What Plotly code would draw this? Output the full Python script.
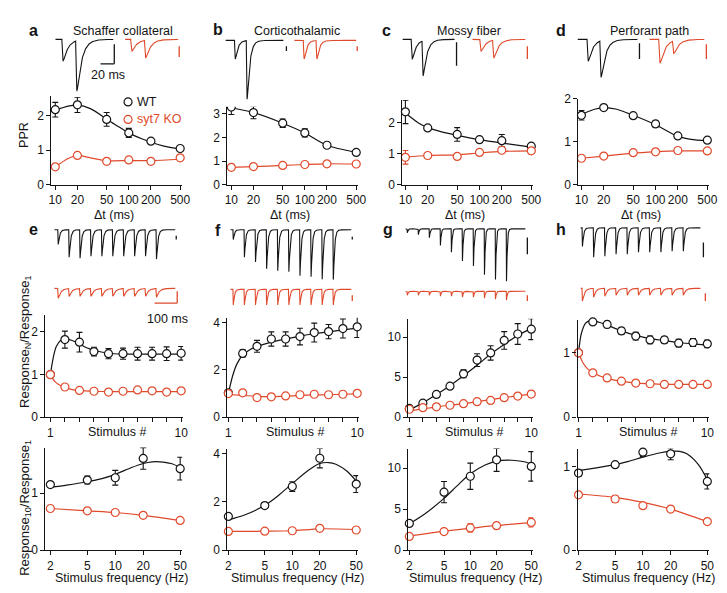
import numpy as np
import plotly.graph_objects as go

W, H = 727, 593
BLACK = "#141414"
RED = "#e04a2c"
FONT = "Arial, Liberation Sans, Helvetica, sans-serif"

# ======================= DATA =======================
dt_ms = [10, 20, 50, 100, 200, 500]
dt_labels = ["10", "20", "50", "100", "200", "500"]
stim_n = [1, 2, 3, 4, 5, 6, 7, 8, 9, 10]
stim_label_vals = [1, 10]
stim_labels = ["1", "10"]
freq_hz = [2, 5, 10, 20, 50]
freq_labels = ["2", "5", "10", "20", "50"]

# --- paired-pulse ratio (PPR) vs interval ---
a_wt = [2.17, 2.31, 1.89, 1.50, 1.26, 1.05]
a_wt_err = [0.21, 0.22, 0.20, 0.13, 0.04, 0.04]
a_ko = [0.52, 0.85, 0.68, 0.72, 0.68, 0.78]
a_ko_err = [0.03, 0.03, 0.03, 0.03, 0.03, 0.03]
b_wt = [3.28, 3.05, 2.60, 2.19, 1.67, 1.37]
b_wt_err = [0.31, 0.26, 0.18, 0.17, 0.06, 0.08]
b_ko = [0.74, 0.77, 0.82, 0.86, 0.89, 0.88]
b_ko_err = [0.03, 0.03, 0.03, 0.03, 0.03, 0.03]
c_wt = [2.36, 1.84, 1.63, 1.46, 1.43, 1.25]
c_wt_err = [0.38, 0.07, 0.22, 0.08, 0.20, 0.07]
c_ko = [0.89, 0.95, 0.92, 1.05, 1.12, 1.10]
c_ko_err = [0.22, 0.05, 0.05, 0.08, 0.05, 0.10]
d_wt = [1.62, 1.80, 1.61, 1.42, 1.14, 1.04]
d_wt_err = [0.11, 0.03, 0.05, 0.07, 0.03, 0.05]
d_ko = [0.62, 0.67, 0.75, 0.77, 0.80, 0.79]
d_ko_err = [0.05, 0.05, 0.03, 0.03, 0.03, 0.03]

# fitted curves
a_wt_fit_x = [10, 15, 20, 30, 50, 70, 100, 150, 200, 300, 500]
a_wt_fit_y = [2.15, 2.27, 2.30, 2.20, 1.90, 1.70, 1.50, 1.33, 1.23, 1.12, 1.04]
a_ko_fit_x = [10, 15, 20, 30, 50, 100, 200, 500]
a_ko_fit_y = [0.52, 0.76, 0.85, 0.78, 0.70, 0.70, 0.70, 0.74]
b_wt_fit_x = [10, 20, 50, 100, 200, 500]
b_wt_fit_y = [3.25, 3.05, 2.60, 2.19, 1.67, 1.37]
b_ko_fit_x = [10, 20, 50, 100, 200, 500]
b_ko_fit_y = [0.74, 0.77, 0.82, 0.86, 0.89, 0.88]
c_wt_fit_x = [10, 15, 20, 30, 50, 100, 200, 500]
c_wt_fit_y = [2.32, 2.00, 1.85, 1.72, 1.60, 1.46, 1.35, 1.22]
c_ko_fit_x = [10, 20, 50, 100, 200, 500]
c_ko_fit_y = [0.90, 0.95, 0.97, 1.03, 1.08, 1.10]
d_wt_fit_x = [10, 15, 20, 30, 50, 100, 200, 300, 500]
d_wt_fit_y = [1.64, 1.76, 1.80, 1.76, 1.62, 1.40, 1.13, 1.06, 1.03]
d_ko_fit_x = [10, 20, 50, 100, 200, 500]
d_ko_fit_y = [0.62, 0.67, 0.74, 0.77, 0.79, 0.79]

# --- Response_N / Response_1 vs stimulus number (20 Hz trains) ---
e_wt = [1.00, 1.82, 1.76, 1.54, 1.49, 1.49, 1.49, 1.49, 1.49, 1.50]
e_wt_err = [0.0, 0.20, 0.23, 0.10, 0.12, 0.13, 0.15, 0.15, 0.16, 0.16]
e_ko = [1.00, 0.71, 0.63, 0.61, 0.59, 0.61, 0.64, 0.62, 0.59, 0.62]
e_ko_err = [0.0, 0.03, 0.02, 0.02, 0.02, 0.02, 0.02, 0.02, 0.02, 0.02]
f_wt = [1.03, 2.69, 2.99, 3.30, 3.30, 3.40, 3.57, 3.61, 3.74, 3.81]
f_wt_err = [0.0, 0.15, 0.25, 0.30, 0.30, 0.35, 0.40, 0.30, 0.40, 0.45]
f_ko = [1.00, 1.03, 0.83, 0.86, 0.90, 0.95, 0.97, 0.95, 0.97, 1.01]
f_ko_err = [0.0, 0.05, 0.05, 0.05, 0.05, 0.05, 0.05, 0.05, 0.05, 0.05]
g_wt = [1.10, 1.76, 2.86, 3.88, 5.43, 7.14, 8.04, 9.60, 10.40, 11.00]
g_wt_err = [0.10, 0.20, 0.25, 0.30, 0.50, 0.80, 0.90, 1.10, 1.30, 1.30]
g_ko = [1.00, 1.20, 1.30, 1.50, 1.70, 1.95, 2.10, 2.45, 2.65, 2.90]
g_ko_err = [0.05, 0.05, 0.05, 0.05, 0.05, 0.10, 0.10, 0.15, 0.25, 0.35]
h_wt = [1.00, 1.48, 1.44, 1.34, 1.26, 1.20, 1.20, 1.15, 1.16, 1.14]
h_wt_err = [0.0, 0.03, 0.05, 0.05, 0.06, 0.06, 0.05, 0.06, 0.06, 0.06]
h_ko = [1.00, 0.69, 0.61, 0.56, 0.53, 0.52, 0.51, 0.51, 0.51, 0.51]
h_ko_err = [0.0, 0.04, 0.03, 0.03, 0.02, 0.02, 0.02, 0.02, 0.02, 0.02]

e_wt_fit_x = [1, 1.2, 1.4, 1.7, 2, 2.5, 3, 3.5, 4, 5, 6, 7, 8, 9, 10]
e_wt_fit_y = [1.0, 1.4, 1.65, 1.8, 1.83, 1.8, 1.72, 1.63, 1.57, 1.5, 1.48, 1.48, 1.48, 1.48, 1.48]
e_ko_fit_x = [1, 1.3, 1.6, 2, 2.5, 3, 4, 5, 6, 7, 8, 9, 10]
e_ko_fit_y = [1.0, 0.84, 0.76, 0.70, 0.65, 0.63, 0.61, 0.60, 0.60, 0.60, 0.60, 0.60, 0.60]
f_wt_fit_x = [1, 1.3, 1.6, 2, 2.5, 3, 4, 5, 6, 7, 8, 9, 10]
f_wt_fit_y = [1.0, 1.75, 2.25, 2.62, 2.85, 2.98, 3.17, 3.30, 3.42, 3.52, 3.60, 3.68, 3.76]
f_ko_fit_x = [1, 2, 3, 4, 5, 6, 7, 8, 9, 10]
f_ko_fit_y = [0.96, 0.92, 0.88, 0.87, 0.89, 0.92, 0.94, 0.95, 0.97, 0.99]
g_wt_fit_x = [1, 2, 3, 4, 5, 6, 7, 8, 9, 10]
g_wt_fit_y = [0.9, 1.8, 2.85, 3.95, 5.2, 6.5, 7.9, 9.1, 10.2, 11.1]
g_ko_fit_x = [1, 2, 3, 4, 5, 6, 7, 8, 9, 10]
g_ko_fit_y = [0.8, 1.05, 1.3, 1.5, 1.7, 1.95, 2.2, 2.45, 2.7, 2.9]
h_wt_fit_x = [1, 1.2, 1.5, 1.8, 2, 2.5, 3, 4, 5, 6, 7, 8, 9, 10]
h_wt_fit_y = [1.0, 1.3, 1.46, 1.5, 1.5, 1.47, 1.43, 1.34, 1.27, 1.22, 1.19, 1.16, 1.14, 1.12]
h_ko_fit_x = [1, 1.3, 1.6, 2, 2.5, 3, 4, 5, 6, 7, 8, 9, 10]
h_ko_fit_y = [1.0, 0.85, 0.76, 0.69, 0.64, 0.60, 0.56, 0.53, 0.52, 0.51, 0.51, 0.51, 0.51]

# --- Response_10 / Response_1 vs stimulus frequency ---
ef_wt = [1.15, 1.23, 1.27, 1.61, 1.43]
ef_wt_err = [0.04, 0.07, 0.13, 0.19, 0.20]
ef_ko = [0.73, 0.69, 0.66, 0.61, 0.52]
ef_ko_err = [0.02, 0.02, 0.02, 0.02, 0.03]
ff_wt = [1.39, 1.84, 2.63, 3.80, 2.73]
ff_wt_err = [0.05, 0.12, 0.20, 0.40, 0.35]
ff_ko = [0.77, 0.78, 0.80, 0.90, 0.83]
ff_ko_err = [0.03, 0.03, 0.03, 0.05, 0.05]
gf_wt = [3.25, 7.06, 9.00, 11.00, 10.20]
gf_wt_err = [0.20, 1.30, 1.60, 1.40, 1.80]
gf_ko = [1.66, 2.26, 2.70, 2.97, 3.37]
gf_ko_err = [0.10, 0.20, 0.50, 0.35, 0.55]
hf_wt = [0.92, 1.02, 1.17, 1.15, 0.82]
hf_wt_err = [0.04, 0.02, 0.05, 0.07, 0.09]
hf_ko = [0.66, 0.61, 0.53, 0.49, 0.34]
hf_ko_err = [0.02, 0.04, 0.03, 0.02, 0.02]

ef_wt_fit_x = [2, 3, 5, 7, 10, 15, 20, 25, 30, 40, 50]
ef_wt_fit_y = [1.10, 1.14, 1.20, 1.25, 1.33, 1.45, 1.52, 1.55, 1.55, 1.52, 1.45]
ef_ko_fit_x = [2, 5, 10, 20, 50]
ef_ko_fit_y = [0.73, 0.69, 0.66, 0.61, 0.52]
ff_wt_fit_x = [2, 3, 5, 7, 10, 15, 20, 25, 30, 40, 50]
ff_wt_fit_y = [1.25, 1.45, 1.85, 2.25, 2.75, 3.30, 3.58, 3.62, 3.55, 3.25, 2.85]
ff_ko_fit_x = [2, 5, 10, 20, 50]
ff_ko_fit_y = [0.77, 0.78, 0.80, 0.88, 0.85]
gf_wt_fit_x = [2, 3, 5, 7, 10, 15, 20, 30, 40, 50]
gf_wt_fit_y = [3.2, 4.4, 6.3, 7.8, 9.3, 10.4, 10.85, 10.95, 10.8, 10.5]
gf_ko_fit_x = [2, 5, 10, 20, 50]
gf_ko_fit_y = [1.70, 2.30, 2.65, 3.00, 3.35]
hf_wt_fit_x = [2, 3, 5, 7, 10, 15, 20, 25, 30, 40, 50]
hf_wt_fit_y = [0.95, 0.98, 1.02, 1.06, 1.11, 1.16, 1.18, 1.18, 1.15, 1.02, 0.84]
hf_ko_fit_x = [2, 5, 10, 20, 50]
hf_ko_fit_y = [0.67, 0.63, 0.57, 0.49, 0.34]

# --- example traces: peak amplitudes of each EPSC (as drawn, arbitrary units) ---
a_tr_wt = [22, 51]
a_tr_ko = [12, 18]
b_tr_wt = [19, 60]
b_tr_ko = [19, 19]
c_tr_wt = [20, 36]
c_tr_ko = [12, 18]
d_tr_wt = [22, 37]
d_tr_ko = [24, 13]
e_tr_wt = [15, 28, 29, 27, 27, 27, 27, 27, 27, 30]
e_tr_ko = [10, 8, 8, 8, 8, 8, 8, 8, 8, 9]
f_tr_wt = [10, 28, 33, 40, 42, 43, 47, 48, 51, 53]
f_tr_ko = [16, 16, 16, 16, 16, 16, 16, 16, 16, 16]
g_tr_wt = [4, 6, 9, 17, 24, 33, 38, 47, 52, 54]
g_tr_ko = [4, 4, 4, 5, 5, 6, 6, 7, 8, 9]
h_tr_wt = [19, 30, 29, 27, 27, 25, 25, 25, 24, 24]
h_tr_ko = [13, 9, 8, 7, 7, 7, 7, 7, 7, 7]
pair_interval_ms = 20
train_interval_ms = 50

# ======================= LAYOUT HELPERS =======================
fig = go.Figure()
layout = {}
annotations = []
ax_count = [0]


def new_axes():
    ax_count[0] += 1
    n = ax_count[0]
    s = "" if n == 1 else str(n)
    return "xaxis" + s, "yaxis" + s, "x" + s, "y" + s


def ann(px, py, text, size=12, color=BLACK, bold=False, angle=0, xanchor="center"):
    font = dict(size=size, color=color, family=FONT)
    if bold:
        font["weight"] = "bold"
    annotations.append(dict(x=px / W, y=1 - py / H, xref="paper", yref="paper",
                            text=text, showarrow=False, xanchor=xanchor, yanchor="middle",
                            textangle=angle, font=font))


def axis_style():
    return dict(showline=True, linecolor=BLACK, linewidth=1.1, ticks="outside", ticklen=4,
                tickwidth=1.1, tickcolor=BLACK, showgrid=False, zeroline=False, fixedrange=True,
                tickangle=0, tickfont=dict(size=12, color=BLACK, family=FONT))


def main_plot(geom, xlog, xs, xtv, xtt, ytv, wt, wt_err, ko, ko_err, wfx, wfy, kfx, kfy, minor_every=None):
    # geom: spine px, first-tick px, last-tick px, right px, top px, px per y-unit, y0 px
    spine, pf, pl, right, top, ppu, y0 = geom
    xk, yk, xr, yr = new_axes()
    f = np.log10 if xlog else (lambda v: v)
    a, b = f(xtv[0]), f(xtv[-1])
    ppx = (pl - pf) / (b - a)
    xrng = [a - (pf - spine) / ppx, b + (right - pl) / ppx]
    xa = dict(axis_style(), domain=[spine / W, right / W], range=xrng,
              type="log" if xlog else "linear", anchor=yr,
              tickvals=xtv, ticktext=xtt)
    if minor_every:
        xa["minor"] = dict(ticks="outside", ticklen=4, tickwidth=1.1, tickcolor=BLACK,
                           tick0=xtv[0], dtick=minor_every, showgrid=False)
    layout[xk] = xa
    layout[yk] = dict(axis_style(), domain=[1 - y0 / H, 1 - top / H],
                      range=[0, (y0 - top) / ppu], anchor=xr, tickvals=ytv,
                      ticktext=[str(v) for v in ytv])
    for fx, fy, c in ((wfx, wfy, BLACK), (kfx, kfy, RED)):
        fig.add_trace(go.Scatter(x=fx, y=fy, mode="lines", xaxis=xr, yaxis=yr,
                                 line=dict(color=c, width=1.2, shape="spline", smoothing=0.8),
                                 hoverinfo="skip", showlegend=False, cliponaxis=False))
    for ys, es, c in ((wt, wt_err, BLACK), (ko, ko_err, RED)):
        fig.add_trace(go.Scatter(x=xs, y=ys, mode="markers", xaxis=xr, yaxis=yr,
                                 marker=dict(symbol="circle", size=8, color="white",
                                             line=dict(color=c, width=1.2)),
                                 error_y=dict(type="data", array=es, color=c, thickness=1.1, width=3),
                                 showlegend=False, cliponaxis=False))
    return xr, yr, xrng, ppx, spine, y0, ppu


def ephys_trace(amps, color, geom, interval_ms, tau_r, tau_d, bars):
    # geom: start px, end px, baseline px, first-peak px, px between events
    x0, x1, yb, p1, step = geom
    xk, yk, xr, yr = new_axes()
    pxms = step / interval_ms
    tpk = tau_r * tau_d / (tau_d - tau_r) * np.log(tau_d / tau_r)
    t = np.arange(0, (x1 - x0) / pxms, 0.1)
    tt = np.linspace(0, 10 * tau_d, 4000)
    norm = np.max(np.exp(-tt / tau_d) - np.exp(-tt / tau_r))
    y = np.zeros_like(t)
    for i, A in enumerate(amps):
        ts = (p1 - x0) / pxms - tpk + i * interval_ms
        d = np.clip(t - ts, 0, None)
        k = (np.exp(-d / tau_d) - np.exp(-d / tau_r)) / norm
        y -= A * k
    fig.add_trace(go.Scatter(x=t, y=y, mode="lines", xaxis=xr, yaxis=yr,
                             line=dict(color=color, width=1.1), hoverinfo="skip",
                             showlegend=False, cliponaxis=False))
    xmax = x1
    ytop, ybot = yb - 10, yb + max(amps) + 8
    for (bx0, by0, bx1, by1) in bars:
        xmax = max(xmax, bx0, bx1)
        ybot = max(ybot, by0 + 2, by1 + 2)
        fig.add_trace(go.Scatter(x=[(bx0 - x0) / pxms, (bx1 - x0) / pxms],
                                 y=[yb - by0, yb - by1], mode="lines", xaxis=xr, yaxis=yr,
                                 line=dict(color=color, width=1.3), hoverinfo="skip",
                                 showlegend=False, cliponaxis=False))
    xmax += 3
    layout[xk] = dict(visible=False, domain=[x0 / W, xmax / W], range=[0, (xmax - x0) / pxms],
                      anchor=yr, fixedrange=True)
    layout[yk] = dict(visible=False, domain=[1 - ybot / H, 1 - ytop / H],
                      range=[yb - ybot, yb - ytop], anchor=xr, fixedrange=True)


# ======================= MAIN PLOTS =======================
r1 = dict(xlog=True, xs=dt_ms, xtv=dt_ms, xtt=dt_labels)
pa = main_plot((40, 44, 171, 173, 83, 35.5, 174), ytv=[0, 1, 2], wt=a_wt, wt_err=a_wt_err, ko=a_ko, ko_err=a_ko_err,
               wfx=a_wt_fit_x, wfy=a_wt_fit_y, kfx=a_ko_fit_x, kfy=a_ko_fit_y, **r1)
main_plot((219, 223, 350, 352, 86, 24.3, 174), ytv=[0, 1, 2, 3], wt=b_wt, wt_err=b_wt_err, ko=b_ko, ko_err=b_ko_err,
          wfx=b_wt_fit_x, wfy=b_wt_fit_y, kfx=b_ko_fit_x, kfy=b_ko_fit_y, **r1)
main_plot((397, 400, 528, 530, 87, 31.7, 174), ytv=[0, 1, 2], wt=c_wt, wt_err=c_wt_err, ko=c_ko, ko_err=c_ko_err,
          wfx=c_wt_fit_x, wfy=c_wt_fit_y, kfx=c_ko_fit_x, kfy=c_ko_fit_y, **r1)
main_plot((576, 579, 707, 709, 86, 44.0, 174), ytv=[0, 1, 2], wt=d_wt, wt_err=d_wt_err, ko=d_ko, ko_err=d_ko_err,
          wfx=d_wt_fit_x, wfy=d_wt_fit_y, kfx=d_ko_fit_x, kfy=d_ko_fit_y, **r1)

r2 = dict(xlog=False, xs=stim_n, xtv=stim_label_vals, xtt=stim_labels, minor_every=1)
main_plot((34, 39, 172, 174, 307, 43.7, 412), ytv=[0, 1, 2], wt=e_wt, wt_err=e_wt_err, ko=e_ko, ko_err=e_ko_err,
          wfx=e_wt_fit_x, wfy=e_wt_fit_y, kfx=e_ko_fit_x, kfy=e_ko_fit_y, **r2)
main_plot((219, 220, 351, 353, 310, 24.3, 412), ytv=[0, 2, 4], wt=f_wt, wt_err=f_wt_err, ko=f_ko, ko_err=f_ko_err,
          wfx=f_wt_fit_x, wfy=f_wt_fit_y, kfx=f_ko_fit_x, kfy=f_ko_fit_y, **r2)
main_plot((403, 404, 528, 530, 311, 8.2, 412), ytv=[0, 5, 10], wt=g_wt, wt_err=g_wt_err, ko=g_ko, ko_err=g_ko_err,
          wfx=g_wt_fit_x, wfy=g_wt_fit_y, kfx=g_ko_fit_x, kfy=g_ko_fit_y, **r2)
main_plot((575, 576, 707, 709, 312, 66.0, 412), ytv=[0, 1], wt=h_wt, wt_err=h_wt_err, ko=h_ko, ko_err=h_ko_err,
          wfx=h_wt_fit_x, wfy=h_wt_fit_y, kfx=h_ko_fit_x, kfy=h_ko_fit_y, **r2)

r3 = dict(xlog=True, xs=freq_hz, xtv=freq_hz, xtt=freq_labels)
main_plot((34, 39, 171, 173, 443, 58.3, 548), ytv=[0, 1], wt=ef_wt, wt_err=ef_wt_err, ko=ef_ko, ko_err=ef_ko_err,
          wfx=ef_wt_fit_x, wfy=ef_wt_fit_y, kfx=ef_ko_fit_x, kfy=ef_ko_fit_y, **r3)
main_plot((219, 220, 350, 352, 444, 24.75, 548), ytv=[0, 2, 4], wt=ff_wt, wt_err=ff_wt_err, ko=ff_ko, ko_err=ff_ko_err,
          wfx=ff_wt_fit_x, wfy=ff_wt_fit_y, kfx=ff_ko_fit_x, kfy=ff_ko_fit_y, **r3)
main_plot((403, 404, 528, 530, 444, 8.4, 548), ytv=[0, 5, 10], wt=gf_wt, wt_err=gf_wt_err, ko=gf_ko, ko_err=gf_ko_err,
          wfx=gf_wt_fit_x, wfy=gf_wt_fit_y, kfx=gf_ko_fit_x, kfy=gf_ko_fit_y, **r3)
main_plot((575, 576, 707, 709, 444, 85.7, 548), ytv=[0, 1], wt=hf_wt, wt_err=hf_wt_err, ko=hf_ko, ko_err=hf_ko_err,
          wfx=hf_wt_fit_x, wfy=hf_wt_fit_y, kfx=hf_ko_fit_x, kfy=hf_ko_fit_y, **r3)

# legend (inside panel a)
xr_a, yr_a, xrng_a, ppx_a, spine_a, y0_a, ppu_a = pa
for py, c, label in ((89, BLACK, "WT"), (107, RED, "syt7 KO")):
    lx = 10 ** (xrng_a[0] + (118 - spine_a) / ppx_a)
    ly = (y0_a - py) / ppu_a
    fig.add_trace(go.Scatter(x=[lx], y=[ly], mode="markers", xaxis=xr_a, yaxis=yr_a,
                             marker=dict(symbol="circle", size=8, color="white", line=dict(color=c, width=1.2)),
                             showlegend=False, cliponaxis=False, hoverinfo="skip"))
    ann(125, py, label, size=12.5, color=c, xanchor="left")

# ======================= EXAMPLE TRACES =======================
# paired pulses (row 1)
ephys_trace(a_tr_wt, BLACK, (44, 103, 25, 52, 14), pair_interval_ms, 0.7, 7.0, [(104, 30, 104, 50), (90, 50, 104, 50)])
ephys_trace(a_tr_ko, RED, (115, 169, 25, 122, 14), pair_interval_ms, 0.7, 7.0, [(170, 32, 170, 43)])
ephys_trace(b_tr_wt, BLACK, (217, 276, 26, 227, 12), pair_interval_ms, 0.5, 4.5, [(279, 32, 279, 37)])
ephys_trace(b_tr_ko, RED, (287, 350, 26, 297, 13), pair_interval_ms, 0.5, 4.0, [(351, 32, 351, 37)])
ephys_trace(c_tr_wt, BLACK, (397, 450, 25, 407, 11), pair_interval_ms, 0.8, 7.0, [(452, 28, 452, 52)])
ephys_trace(c_tr_ko, RED, (468, 522, 25, 477, 13), pair_interval_ms, 0.8, 7.0, [(524, 32, 524, 45)])
ephys_trace(d_tr_wt, BLACK, (575, 636, 25, 586, 13), pair_interval_ms, 0.8, 7.0, [(638, 29, 638, 45)])
ephys_trace(d_tr_ko, RED, (648, 704, 25, 659, 14), pair_interval_ms, 0.8, 7.0, [(706, 30, 706, 45)])
# trains (row 2)
ephys_trace(e_tr_wt, BLACK, (43, 166, 220, 47, 11.1), train_interval_ms, 0.8, 6.0, [(167, 226, 167, 230)])
ephys_trace(e_tr_ko, RED, (43, 166, 280, 47, 11.1), train_interval_ms, 0.8, 12.0, [(168, 283, 168, 295), (145, 295, 168, 295)])
ephys_trace(f_tr_wt, BLACK, (222, 345, 220, 225, 11.3), train_interval_ms, 0.6, 5.0, [(346, 227, 346, 230)])
ephys_trace(f_tr_ko, RED, (222, 345, 281, 225, 11.3), train_interval_ms, 0.6, 5.0, [(346, 287, 346, 293)])
ephys_trace(g_tr_wt, BLACK, (400, 522, 219, 402, 11.2), train_interval_ms, 0.5, 3.0, [(524, 228, 524, 245)])
ephys_trace(g_tr_ko, RED, (400, 522, 283, 402, 11.2), train_interval_ms, 0.5, 3.0, [(524, 287, 524, 293)])
ephys_trace(h_tr_wt, BLACK, (578, 700, 218, 580, 11.4), train_interval_ms, 0.6, 5.0, [(703, 233, 703, 248)])
ephys_trace(h_tr_ko, RED, (578, 700, 280, 580, 11.4), train_interval_ms, 0.6, 9.0, [(705, 285, 705, 293)])

# ======================= TEXT =======================
for x, y, t in ((22, 16, "a"), (209, 15, "b"), (381, 16, "c"), (558, 16, "d"),
                (22, 220, "e"), (209, 221, "f"), (382, 220, "g"), (558, 220, "h")):
    ann(x, y, t, size=16, bold=True)
for x, t in ((113, "Schaffer collateral"), (290, "Corticothalamic"), (465, "Mossy fiber"), (648, "Perforant path")):
    ann(x, 16, t, size=12.5)
ann(98, 61, "20 ms", size=12.5)
ann(158, 311, "100 ms", size=12.5)
for x in (104, 283, 461, 640):
    ann(x, 205, "Δt (ms)", size=12.5)
for x in (107, 288, 470, 647):
    ann(x, 427, "Stimulus #", size=12.5)
for x in (111, 290, 471, 647):
    ann(x, 577, "Stimulus frequency (Hz)", size=12.5)
ann(12, 123, "PPR", size=12.5, angle=-90)
ann(13, 335, "Response<sub>N</sub>/Response<sub>1</sub>", size=13, angle=-90)
ann(13, 505, "Response<sub>10</sub>/Response<sub>1</sub>", size=13, angle=-90)

fig.update_layout(**layout)
fig.update_layout(width=W, height=H, autosize=False, margin=dict(l=0, r=0, t=0, b=0),
                  paper_bgcolor="white", plot_bgcolor="white", showlegend=False,
                  annotations=annotations, font=dict(family=FONT, color=BLACK))
fig.write_html("out.html")
